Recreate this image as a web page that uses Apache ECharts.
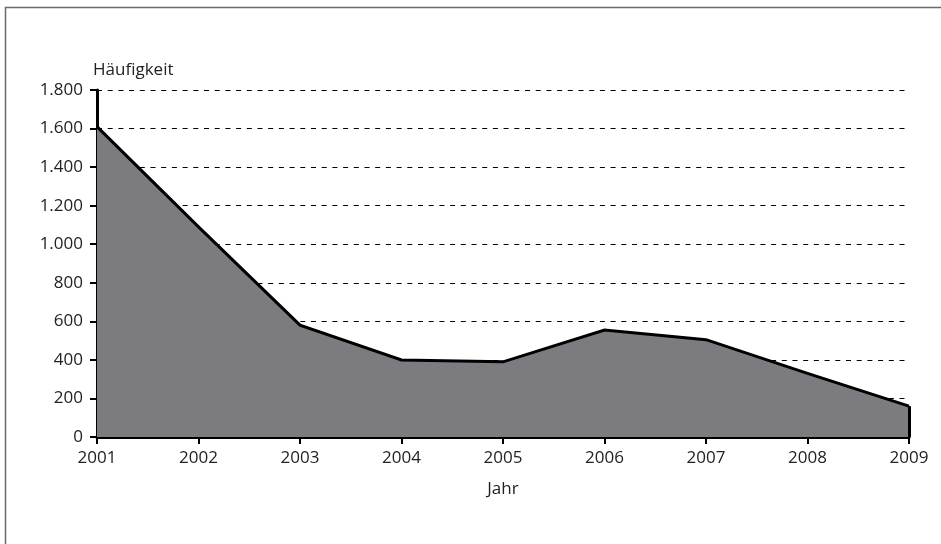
<!DOCTYPE html>
<html>
<head>
<meta charset="utf-8">
<title>Häufigkeit nach Jahr</title>
<script src="https://cdn.jsdelivr.net/npm/echarts@6/dist/echarts.min.js"></script>
<style>
  html, body { margin: 0; padding: 0; background: #fff; }
  #chart { width: 941px; height: 544px; }
</style>
</head>
<body>
<div id="chart"></div>
<script>
// Jahre auf der x-Achse
const years = ['2001', '2002', '2003', '2004', '2005', '2006', '2007', '2008', '2009'];
// Häufigkeit je Jahr
const counts = [1610, 1090, 580, 400, 390, 555, 505, 330, 160];
// Skala der y-Achse
const yMin = 0;
const yMax = 1800;
const yStep = 200;

const FONT = '"Open Sans", "Noto Sans", sans-serif';
const TEXT = '#222';
const SIZE = 17;

// Tausendertrennzeichen im deutschen Format
function formatDe(v) {
  return String(v).replace(/\B(?=(\d{3})+(?!\d))/g, '.');
}

const chart = echarts.init(document.getElementById('chart'), null, { renderer: 'canvas' });

const last = years.length - 1;

chart.setOption({
  backgroundColor: '#fff',
  animation: false,
  graphic: [{
    type: 'rect',
    shape: { x: 5.5, y: 7.5, width: 1000, height: 1000 },
    style: { fill: 'none', stroke: '#6a6a6a', lineWidth: 1.5 },
    silent: true,
    z: -10
  }],
  grid: { left: 97, right: 32, top: 90, bottom: 107, containLabel: false },
  xAxis: {
    type: 'category',
    data: years,
    boundaryGap: false,
    name: 'Jahr',
    nameLocation: 'middle',
    nameGap: 44,
    nameTextStyle: { fontFamily: FONT, fontSize: SIZE, color: TEXT },
    axisLine: { lineStyle: { color: '#000', width: 3 } },
    axisTick: { show: true, length: 7, lineStyle: { color: '#000', width: 2 } },
    axisLabel: { fontFamily: FONT, fontSize: SIZE, color: TEXT, margin: 13 },
    splitLine: { show: false }
  },
  yAxis: {
    type: 'value',
    min: yMin,
    max: yMax,
    interval: yStep,
    name: 'Häufigkeit',
    nameLocation: 'end',
    nameGap: 11,
    nameTextStyle: { fontFamily: FONT, fontSize: SIZE, color: TEXT, align: 'left', padding: [0, 0, 0, -4] },
    axisLine: { show: true, lineStyle: { color: '#000', width: 3 } },
    axisTick: { show: true, length: 7, lineStyle: { color: '#000', width: 2 } },
    axisLabel: { fontFamily: FONT, fontSize: SIZE, color: TEXT, margin: 14, formatter: formatDe },
    splitLine: { show: true, lineStyle: { color: '#000', width: 1, type: [5, 5.7] } }
  },
  series: [{
    type: 'line',
    data: counts,
    symbol: 'none',
    lineStyle: { color: '#000', width: 3, join: 'miter' },
    areaStyle: { color: '#7b7b80', opacity: 1 },
    markLine: {
      silent: true,
      symbol: 'none',
      label: { show: false },
      lineStyle: { color: '#000', width: 3, type: 'solid' },
      data: [[
        { coord: [years[last], yMin] },
        { coord: [years[last], counts[last]] }
      ]]
    }
  }]
});
</script>
</body>
</html>
